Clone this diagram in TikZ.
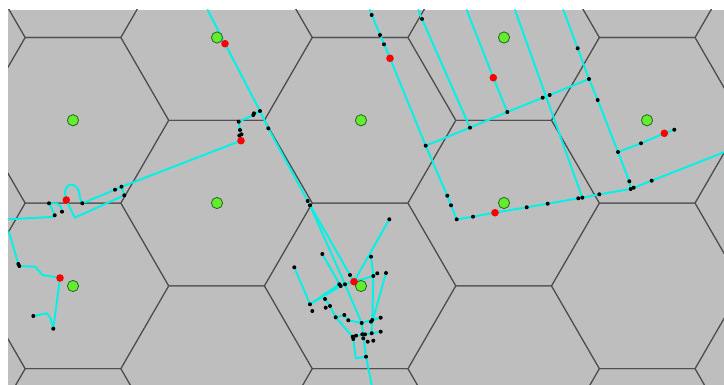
\documentclass[tikz,border=0pt]{standalone}
\definecolor{mapgray}{HTML}{BEBEBE}
\definecolor{hexedge}{HTML}{505050}
\definecolor{roadcyan}{HTML}{00F2E6}
\definecolor{hubgreen}{HTML}{62EE2E}
\definecolor{hubedge}{HTML}{2F6A22}
\definecolor{stopred}{HTML}{FF0000}
\newcommand{\hexcell}[2]{%
  \draw[hexedge,line width=.6pt] ({#1-95.7},#2) -- ({#1-47.85},{#2-82.8}) -- ({#1+47.85},{#2-82.8})
    -- ({#1+95.7},#2) -- ({#1+47.85},{#2+82.8}) -- ({#1-47.85},{#2+82.8}) -- cycle;
}

\begin{document}
\begin{tikzpicture}[x=.02cm,y=-.02cm,
  road/.style={roadcyan,line width=1.1pt,line join=round,line cap=round}]
  \fill[white] (0,0) rectangle (724,385);
  \useasboundingbox (0,0) rectangle (724,385);
  \fill[mapgray] (8,10) rectangle (724,385);
  \begin{scope}
    \clip (8,10) rectangle (724,385);
    \foreach \c in {-1,...,5}
      \foreach \r in {-1,...,2} {
        \pgfmathsetmacro\cx{73+143.55*\c}
        \pgfmathsetmacro\cy{120.3+165.6*\r-82.8*mod(\c+2,2)}
        \hexcell{\cx}{\cy}
      }
    % roads, west
    \draw[road] (8,219.3) -- (52,217) -- (54.7,215.3) -- (51.5,208) -- (49,203.3) -- (57,203.3) -- (61,207) -- (62,211.7);
    \draw[road] (66.3,200) .. controls (60,180) and (80,180) .. (79.7,197) -- (82.3,203.3) -- (115,189.7) -- (121.7,186.7) -- (241,140.7);
    \draw[road] (66.3,200) -- (74.7,217.7) -- (124.3,195.3) -- (121.7,186.7);
    \draw[road] (241,140.7) -- (240,130) -- (238.7,121.7) -- (253.3,115) -- (260,111);
    \draw[road] (9,232) -- (18.3,264) -- (19.3,266) -- (35,266.7) -- (42.7,275) -- (60,278) -- (53.3,328.7) -- (50.5,318) -- (47,313.3) -- (33.3,316);
    % roads, centre
    \draw[road] (207.7,10) -- (225,43.7) -- (260,111) -- (268.3,128.3) -- (307.7,201) -- (310,205.3) -- (345,284.3) -- (361.7,323) -- (366,356.7) -- (371.7,385);
    \draw[road] (307.7,201) -- (350,275) -- (354,281.7) -- (389.3,219.3);
    \draw[road] (354,281.7) -- (373.3,276) -- (377.3,273.3);
    \draw[road] (371,256.7) -- (373.3,276) -- (372.3,321.7) -- (371.7,333.3);
    \draw[road] (386,273) -- (372.3,321.7);
    \draw[road] (294.3,267.3) -- (310,304.3) -- (339.3,284.3) -- (345,284.3) -- (354,281.7);
    \draw[road] (310,304.3) -- (340.7,286);
    \draw[road] (322.3,254) -- (340,285);
    \draw[road] (325,299) -- (330,306) -- (335.7,317.3) -- (344.3,315) -- (348.3,320.3) -- (361.7,323) -- (372.3,320) -- (380.7,317.7);
    \draw[road] (335.7,317.3) -- (352.7,336.7) -- (365,334.3) -- (371.7,333.3) -- (380.7,331.7);
    \draw[road] (353.3,339) -- (355.7,358.3) -- (366,356.7);
    % roads, east
    \draw[road] (369.7,10) -- (390,58.3) -- (425.7,145.7) -- (447.3,195.7) -- (451,205.3) -- (456.7,219.3) -- (473,216.7) -- (495,212.7) -- (526.7,207.3) -- (547.7,203.7) -- (578.3,198.3) -- (582.3,197.7) -- (599.3,194.3) -- (630.7,189) -- (633.7,187.7) -- (651.7,180.7) -- (724,152.3);
    \draw[road] (418.3,10) -- (422,19) -- (470,127.7);
    \draw[road] (466.7,10) -- (493.3,77.7) -- (507.3,112);
    \draw[road] (515,10) -- (582.3,197.7);
    \draw[road] (563.3,10) -- (577.7,48.3) -- (589,79) -- (597.7,100) -- (618,152) -- (629.3,181.3) -- (630.7,189);
    \draw[road] (618,152) -- (641,143.3) -- (664.3,133.3) -- (674.3,129.7);
    \draw[road] (589,79) -- (549.7,95) -- (542.7,97.7) -- (507.3,112) -- (470,127.7) -- (425.7,145.7);
  \end{scope}
  % stops
  \foreach \x/\y in {238.7/121.7,240/130,239.3/135.5,241.5/134.3,253.3/115,254/113.3,260/111,268.3/128.3,307.7/201,310/205.3,
      49/203.3,62/211.7,54.7/215.3,82.3/203.3,115/189.7,121.5/186.7,124.3/195.3,18.3/264,19.3/266,53.3/328.7,33.3/316,
      389.3/219.3,371/256.7,373.3/276,377.3/273.3,386/273,350/275,294.3/267.3,310/304.3,312.3/311,322.3/254,339.3/284.3,
      340.7/286,345/284.3,325/299,330/306,325.7/307.7,335.7/317.3,344.3/315,348.3/320.3,361.7/323,371/321.7,372.3/320,
      380.7/317.7,352.7/336.7,353.3/339,356/335.7,362.3/334.3,365/334.3,363.3/338.3,367.7/341.7,373.3/340.7,371.7/333.3,
      380.7/331.7,366/356.7,
      371.7/15,380/35,384/44.3,422/19,425.7/145.7,447.3/195.7,451/205.3,456.7/219.3,473/216.7,526.7/207.3,547.7/203.7,
      578.3/198.3,582.3/197.7,599.3/194.3,630.7/189,633.7/187.7,651.7/180.7,470/127.7,507.3/112,542.7/97.7,549.7/95,
      589/79,577.7/48.3,597.7/100,618/152,629.3/181.3,641/143.3,674.3/129.7}
    \fill[black] (\x,\y) circle[radius=2];
  % hubs
  \foreach \x/\y in {73/120.3,217/37.5,361/120.3,504/37.5,647/120.3,217/203,504/203,73/286,361/286}
    \filldraw[fill=hubgreen,draw=hubedge,line width=.5pt] (\x,\y) circle[radius=5.6];
  \foreach \x/\y in {225/43.7,390/58.3,493.3/77.7,241/140.7,66.3/200,495/212.7,664.3/133.3,354/281.7,60/278}
    \fill[stopred] (\x,\y) circle[radius=3.8];
\end{tikzpicture}
\end{document}
